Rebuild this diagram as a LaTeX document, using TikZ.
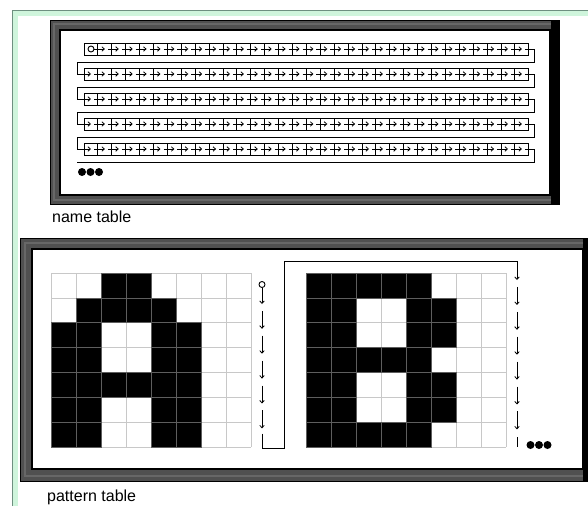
\documentclass[tikz,border=0pt]{standalone}
\usepackage{fontspec}
\setmainfont{Liberation Sans}
\usetikzlibrary{arrows.meta}
\definecolor{mint}{HTML}{CFF5DC}
\definecolor{mintline}{HTML}{6E9080}
\definecolor{framegray}{HTML}{505050}
\definecolor{framelight}{HTML}{676767}
\definecolor{gridgray}{HTML}{C8C8C8}
\definecolor{cellline}{HTML}{5E5E5E}
\tikzset{
  tip/.style={-{Straight Barb[length=2.5pt,width=4.5pt,line width=0.8pt]}},
  wire/.style={line width=0.9pt},
  labeltext/.style={font=\fontsize{16}{18}\selectfont, anchor=base west, inner sep=0pt},
  blackcell/.style={fill=black, draw=cellline, line width=0.8pt},
  gridline/.style={draw=gridgray, line width=0.8pt}
}
\begin{document}
\begin{tikzpicture}[x=1pt,y=-1pt]
\useasboundingbox (0,0) rectangle (588,506);
% outer mint frame
\fill[mint] (12,10) rectangle (588,506);
\fill[white] (17.5,15.5) rectangle (588,506);
\draw[mintline, line width=1.2pt] (12.5,506) -- (12.5,10.5) -- (588,10.5);

% ---------- name table frame ----------
\fill[framegray] (50,20) rectangle (559,204);
\draw[framelight, line width=1.5pt] (54,24) rectangle (555,200);
\fill[black] (551,20) rectangle (559,204);
\fill[white] (60,30) rectangle (550,195);
\draw[black,line width=0.8pt] (50,20) rectangle (559,204);
\draw[black,line width=1.2pt] (60,30) rectangle (550,195);

% rows of the name table
\foreach \k in {0,...,4} {
  \pgfmathsetmacro\yt{43+25*\k}
  \pgfmathsetmacro\ym{49+25*\k}
  \draw[wire] (84,\yt) rectangle (528.8,\yt+12);
  \foreach \j in {1,...,31} \draw[wire] (84+13.9*\j,\yt) -- ++(0,12);
  \foreach \j in {1,...,31} \draw[wire, tip] (91+13.9*\j-10.9,\ym) -- (91+13.9*\j,\ym);
}
\draw[wire, fill=white] (91,49) circle[radius=3pt];
\foreach \k in {0,...,3} {
  \pgfmathsetmacro\ym{49+25*\k}
  \draw[wire, tip] (524.9,\ym) -- (534,\ym) -- (534,\ym+13) -- (77,\ym+13) -- (77,\ym+25) -- (91,\ym+25);
}
\draw[wire] (524.9,149) -- (534,149) -- (534,162) -- (77,162);
\foreach \x in {82,90.5,99} \fill (\x,172) circle[radius=4pt];
\node[labeltext] (nt) at (52,222) {name table};

% ---------- pattern table frame ----------
\fill[framegray] (20,238) rectangle (588,481);
\draw[framelight, line width=1.5pt] (25,243) rectangle (584,476);
\fill[black] (583,238) rectangle (588,481);
\fill[white] (32,249) rectangle (583,469);
\draw[black,line width=0.8pt] (20,238) rectangle (588,481);
\draw[black,line width=1.2pt] (32,249) rectangle (583,469);

% grids
\foreach \gx in {51,306} {
  \foreach \c in {0,...,8} \draw[gridline] (\gx+25*\c,273) -- (\gx+25*\c,447.3);
  \foreach \r in {0,...,7} \draw[gridline] (\gx,273+24.9*\r) -- (\gx+200,273+24.9*\r);
}
% letter A
\foreach \c/\r in {3/1,4/1, 2/2,3/2,4/2,5/2, 1/3,2/3,5/3,6/3, 1/4,2/4,5/4,6/4,
  1/5,2/5,3/5,4/5,5/5,6/5, 1/6,2/6,5/6,6/6, 1/7,2/7,5/7,6/7}
  \draw[blackcell] (26+25*\c,248.1+24.9*\r) rectangle ++(25,24.9);
% letter B
\foreach \c/\r in {1/1,2/1,3/1,4/1,5/1, 1/2,2/2,5/2,6/2, 1/3,2/3,5/3,6/3,
  1/4,2/4,3/4,4/4,5/4, 1/5,2/5,5/5,6/5, 1/6,2/6,5/6,6/6, 1/7,2/7,3/7,4/7,5/7}
  \draw[blackcell] (281+25*\c,248.1+24.9*\r) rectangle ++(25,24.9);

% scan path
\draw[wire, fill=white] (262,284.5) circle[radius=3pt];
\draw[wire, tip] (262,287.5) -- (262,304);
\foreach \i in {2,...,6} \draw[wire, tip] (262,279+24.9*\i-18) -- (262,279+24.9*\i);
\draw[wire, tip] (262,433.5) -- (262,448) -- (284,448) -- (284,261) -- (517,261) -- (517,280);
\foreach \i in {1,...,6} \draw[wire, tip] (517,280+24.9*\i-18) -- (517,280+24.9*\i);
\draw[wire] (517,437) -- (517,447);
\foreach \x in {530.5,539,547.5} \fill (\x,445) circle[radius=4pt];
\node[labeltext] (pt) at (47,501) {pattern table};
\end{tikzpicture}
\end{document}
